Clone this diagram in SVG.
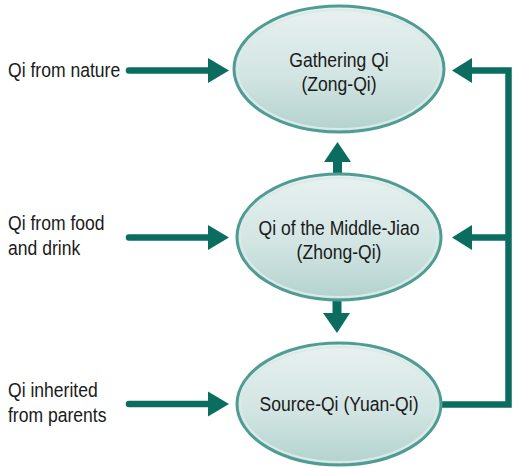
<svg xmlns="http://www.w3.org/2000/svg" width="513" height="468" viewBox="0 0 513 468">
  <defs>
    <linearGradient id="bubble" x1="0" y1="0" x2="0" y2="1">
      <stop offset="0" stop-color="#e8f1f0"/>
      <stop offset="0.55" stop-color="#d2e5e3"/>
      <stop offset="1" stop-color="#b3d2ce"/>
    </linearGradient>
  </defs>
  <style>
    .node-shape { fill: url(#bubble); stroke: #4f9c93; stroke-width: 3; }
    .node-rim { fill: none; stroke: #d9eae8; stroke-width: 2; }
    .lbl { font-family: "Liberation Sans Narrow", "Liberation Sans", Arial, sans-serif; font-size: 19.5px; fill: #1a1a1a; }
    .mid { text-anchor: middle; }
    .link { fill: none; stroke: #0b6d60; stroke-width: 6.5; }
    .head { fill: #0b6d60; }
  </style>

  <g id="connectors">
    <!-- inputs from the left -->
    <path class="link" d="M129,70.5 H209" stroke-linecap="round"/>
    <path class="head" d="M208,58 L229,70.5 L208,83 Z"/>
    <path class="link" d="M129,237.5 H209" stroke-linecap="round"/>
    <path class="head" d="M208,225 L229,237.5 L208,250 Z"/>
    <path class="link" d="M129,404 H209" stroke-linecap="round"/>
    <path class="head" d="M208,391.5 L229,404 L208,416.5 Z"/>
    <!-- middle up to top -->
    <rect class="head" x="333" y="160" width="9" height="16"/>
    <path class="head" d="M324,162 L337.5,142 L351,162 Z"/>
    <!-- middle down to bottom -->
    <rect class="head" x="332.5" y="298" width="9" height="16"/>
    <path class="head" d="M323,313 L337,333 L350,313 Z"/>
    <!-- feedback loop on the right -->
    <path class="link" d="M441,404.5 H508.5 V70.5 H471"/>
    <path class="link" d="M508.5,237.5 H471"/>
    <path class="head" d="M472,58 L452,70.5 L472,83 Z"/>
    <path class="head" d="M472,225 L452,237.5 L472,250 Z"/>
  </g>

  <!-- labels use a condensed horizontal scale -->
  <g id="label-nature" transform="translate(8,0) scale(0.9,1)">
    <text class="lbl" x="0" y="77">Qi from nature</text>
  </g>
  <g id="label-food" transform="translate(8,0) scale(0.9,1)">
    <text class="lbl" x="0" y="230">Qi from food</text>
    <text class="lbl" x="0" y="255">and drink</text>
  </g>
  <g id="label-parents" transform="translate(8,0) scale(0.9,1)">
    <text class="lbl" x="0" y="397">Qi inherited</text>
    <text class="lbl" x="0" y="422">from parents</text>
  </g>

  <g id="node-zong">
    <ellipse class="node-shape" cx="339" cy="69" rx="105" ry="63"/>
    <ellipse class="node-rim" cx="339" cy="69.5" rx="101.5" ry="59.5"/>
    <g transform="translate(339,0) scale(0.9,1)">
      <text class="lbl mid" x="0" y="67">Gathering Qi</text>
      <text class="lbl mid" x="0" y="91">(Zong-Qi)</text>
    </g>
  </g>
  <g id="node-zhong">
    <ellipse class="node-shape" cx="339" cy="237" rx="102" ry="63"/>
    <ellipse class="node-rim" cx="339" cy="237.5" rx="98.5" ry="59.5"/>
    <g transform="translate(339,0) scale(0.9,1)">
      <text class="lbl mid" x="0" y="235">Qi of the Middle-Jiao</text>
      <text class="lbl mid" x="0" y="259">(Zhong-Qi)</text>
    </g>
  </g>
  <g id="node-yuan">
    <ellipse class="node-shape" cx="339" cy="404" rx="102" ry="61"/>
    <ellipse class="node-rim" cx="339" cy="404.5" rx="98.5" ry="57.5"/>
    <g transform="translate(339,0) scale(0.9,1)">
      <text class="lbl mid" x="0" y="411">Source-Qi (Yuan-Qi)</text>
    </g>
  </g>
</svg>
